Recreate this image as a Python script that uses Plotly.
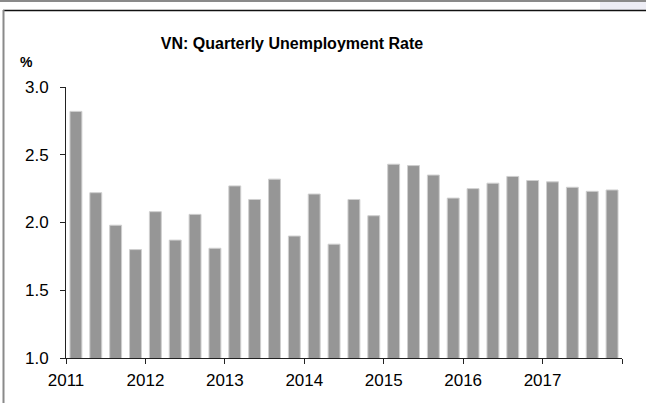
import plotly.graph_objects as go

years = [2011, 2012, 2013, 2014, 2015, 2016, 2017]
quarters = [1, 2, 3, 4]
rate = [2.82, 2.22, 1.98, 1.80,
        2.08, 1.87, 2.06, 1.81,
        2.27, 2.17, 2.32, 1.90,
        2.21, 1.84, 2.17, 2.05,
        2.43, 2.42, 2.35, 2.18,
        2.25, 2.29, 2.34, 2.31,
        2.30, 2.26, 2.23, 2.24]
tick_labels = ["2011", "2012", "2013", "2014", "2015", "2016", "2017", ""]

# quarter mid-points on a year scale
x = [y + (q - 0.5) / 4 for y in years for q in quarters]

W, H = 646, 403
L, R, T, B = 66, 24, 87, 45
pw, ph = W - L - R, H - T - B


def px(v):
    return (v - L) / pw


def py(v):
    return (H - B - v) / ph


FONT = "Liberation Sans, Arial, sans-serif"

fig = go.Figure(go.Bar(
    x=x, y=rate,
    marker=dict(color="#969696", line=dict(color="#cfcfcf", width=1)),
    hoverinfo="x+y",
))

fig.update_layout(
    width=W, height=H,
    margin=dict(l=L, r=R, t=T, b=B),
    plot_bgcolor="white", paper_bgcolor="white",
    bargap=0.4,
    showlegend=False,
    font=dict(family=FONT, size=16, color="#000"),
    title=dict(text="<b>VN: Quarterly Unemployment Rate</b>",
               xref="container", x=292 / W, xanchor="center",
               yref="container", y=1 - 43 / H, yanchor="middle",
               font=dict(size=16, color="#000", family=FONT)),
)

fig.update_xaxes(
    range=[2011, 2018],
    tickvals=list(range(2011, 2019)), ticktext=tick_labels,
    showline=True, linecolor="#222", linewidth=1,
    ticks="outside", ticklen=5, tickcolor="#222",
    showgrid=False, zeroline=False,
    tickfont=dict(size=17), ticklabelstandoff=2,
)
fig.update_yaxes(
    range=[1, 3], tickvals=[1.0, 1.5, 2.0, 2.5, 3.0], tickformat=".1f",
    showline=True, linecolor="#222", linewidth=1,
    ticks="outside", ticklen=5, tickcolor="#222",
    showgrid=False, zeroline=False,
    tickfont=dict(size=17), ticklabelstandoff=8,
)

fig.add_annotation(text="<b>%</b>", xref="paper", yref="paper",
                   x=px(26), y=py(62), xanchor="center", yanchor="middle",
                   showarrow=False,
                   font=dict(size=14, color="#000", family=FONT))

# frame decorations
fig.add_shape(type="rect", xref="paper", yref="paper",
              x0=px(600), x1=px(W), y0=py(10), y1=py(2),
              fillcolor="#ededf5", line=dict(width=0), layer="below")
fig.add_shape(type="line", xref="paper", yref="paper",
              x0=px(0), x1=px(W), y0=py(1), y1=py(1),
              line=dict(color="#8a8a8a", width=2))
fig.add_shape(type="line", xref="paper", yref="paper",
              x0=px(3), x1=px(W), y0=py(10.5), y1=py(10.5),
              line=dict(color="#111", width=1.5))
fig.add_shape(type="line", xref="paper", yref="paper",
              x0=px(3.5), x1=px(3.5), y0=py(10), y1=py(H),
              line=dict(color="#8a8a8a", width=2))

fig.write_html("out.html", config={"displayModeBar": False},
               post_script="document.body.style.margin='0';")
